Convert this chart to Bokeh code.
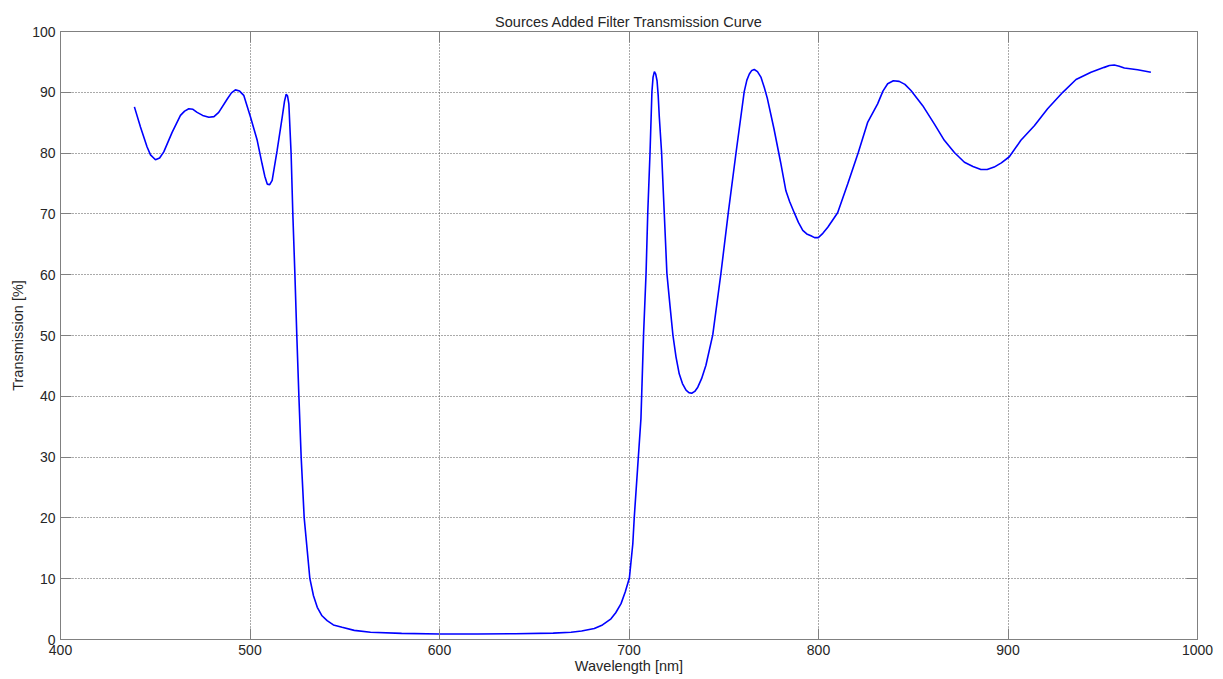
from bokeh.plotting import figure
from bokeh.models import LinearAxis, Range1d, FixedTicker
from bokeh.embed import file_html
from bokeh.resources import INLINE

# Measured filter transmission (wavelength in nm, transmission in %)
wavelength_nm = [
    439.0, 442.2, 445.7, 447.5, 450.1, 452.3, 454.5, 458.9, 463.3, 465.5,
    467.7, 469.9, 472.1, 475.0, 478.3, 481.0, 483.5, 488.0, 490.2, 492.3,
    494.5, 496.7, 500.3, 503.8, 506.4, 507.8, 509.1, 510.4, 511.7, 514.3,
    517.0, 518.2, 519.1, 519.8, 520.5, 521.7, 522.6, 523.7, 524.7, 525.8,
    527.0, 528.6, 531.6, 533.5, 535.5, 538.0, 540.7, 544.0, 548.6, 555.0,
    563.6, 580.0, 600.0, 620.0, 640.0, 660.0, 669.4, 675.0, 681.7, 686.0,
    690.5, 693.0, 695.8, 698.0, 700.2, 702.0, 702.8, 704.5, 706.3, 707.7,
    709.0, 709.9, 711.1, 712.1, 712.7, 713.4, 714.1, 714.8, 715.4, 716.0,
    717.2, 718.6, 720.0, 721.6, 723.2, 724.8, 726.5, 728.2, 730.1, 731.6,
    733.1, 734.7, 736.3, 738.3, 740.6, 744.2, 748.5, 752.4, 756.5, 760.8,
    762.2, 763.5, 764.8, 766.1, 767.8, 769.6, 771.4, 773.0, 776.5, 780.0,
    782.8, 784.8, 787.2, 789.4, 791.7, 793.8, 796.0, 797.9, 799.9, 802.3,
    804.9, 810.1, 815.4, 821.0, 826.0, 831.2, 834.0, 836.5, 839.5, 842.6,
    845.6, 848.8, 855.0, 861.1, 866.4, 871.7, 877.0, 881.5, 885.7, 889.0,
    892.7, 896.5, 900.7, 906.8, 913.9, 920.9, 928.9, 935.9, 943.8, 950.8,
    953.5, 956.1, 958.7, 961.4, 968.4, 975.4,
]
transmission_pct = [
    87.6, 84.3, 81.0, 79.7, 78.9, 79.2, 80.2, 83.4, 86.2, 86.9,
    87.3, 87.2, 86.7, 86.2, 85.9, 86.0, 86.7, 88.9, 89.9, 90.4,
    90.2, 89.5, 85.9, 82.1, 78.2, 76.2, 74.9, 74.8, 75.5, 80.4,
    85.9, 88.5, 89.7, 89.4, 88.1, 79.9, 70.0, 60.0, 50.0, 40.0,
    30.0, 20.0, 10.0, 7.2, 5.3, 3.9, 3.1, 2.4, 2.0, 1.5,
    1.2, 1.0, 0.9, 0.9, 0.95, 1.05, 1.2, 1.4, 1.8, 2.4,
    3.4, 4.4, 5.9, 7.8, 10.1, 15.7, 20.2, 28.0, 36.3, 50.3,
    60.2, 70.2, 80.1, 90.1, 92.5, 93.4, 93.0, 91.9, 89.5, 85.9,
    80.1, 70.2, 60.2, 55.0, 50.0, 46.5, 43.7, 42.1, 41.0, 40.6,
    40.5, 40.8, 41.5, 42.9, 45.1, 50.1, 60.2, 70.2, 80.1, 90.1,
    92.0, 93.0, 93.6, 93.75, 93.4, 92.5, 90.8, 89.0, 84.0, 78.5,
    73.8, 72.0, 70.2, 68.6, 67.3, 66.7, 66.4, 66.1, 66.1, 66.8,
    67.8, 70.2, 74.9, 80.1, 85.1, 88.1, 90.2, 91.4, 91.9, 91.8,
    91.3, 90.3, 87.8, 84.8, 82.1, 80.1, 78.5, 77.8, 77.3, 77.3,
    77.7, 78.4, 79.4, 82.1, 84.5, 87.3, 90.0, 92.1, 93.3, 94.1,
    94.4, 94.5, 94.3, 94.0, 93.7, 93.3,
]

x_ticks = [400, 500, 600, 700, 800, 900, 1000]
y_ticks = [0, 10, 20, 30, 40, 50, 60, 70, 80, 90, 100]

FONT = "Liberation Sans"
AXIS_GREY = "#808080"
TEXT = "#262626"

p = figure(
    width=1223, height=679,
    x_range=Range1d(400, 1000), y_range=Range1d(0, 100),
    output_backend="svg", toolbar_location=None,
    title="Sources Added Filter Transmission Curve",
    min_border_left=60, min_border_right=26,
    min_border_top=31, min_border_bottom=40,
)
p.background_fill_color = "white"
p.border_fill_color = "white"
p.outline_line_color = AXIS_GREY
p.outline_line_width = 1

p.title.align = "center"
p.title.text_font = FONT
p.title.text_font_size = "14.5px"
p.title.text_font_style = "normal"
p.title.text_color = TEXT
p.title.standoff = 4

p.line(wavelength_nm, transmission_pct, line_color="#0000ff", line_width=1.6)


def style_axis(ax, ticks, show_labels):
    ax.ticker = FixedTicker(ticks=ticks)
    ax.axis_line_color = AXIS_GREY
    ax.major_tick_line_color = AXIS_GREY
    ax.major_tick_in = 11
    ax.major_tick_out = 0
    ax.minor_tick_line_color = None
    ax.major_label_text_font = FONT
    ax.major_label_text_color = TEXT
    if show_labels:
        ax.major_label_text_font_size = "14px"
        ax.major_label_standoff = 5
    else:
        ax.major_label_text_font_size = "1px"
        ax.major_label_text_alpha = 0
        ax.major_label_standoff = 0


style_axis(p.xaxis[0], x_ticks, True)
style_axis(p.yaxis[0], y_ticks, True)
p.xaxis[0].axis_label = "Wavelength [nm]"
p.yaxis[0].axis_label = "Transmission [%]"
for ax in (p.xaxis[0], p.yaxis[0]):
    ax.axis_label_text_font = FONT
    ax.axis_label_text_font_size = "14.5px"
    ax.axis_label_text_font_style = "normal"
    ax.axis_label_text_color = TEXT
p.xaxis[0].axis_label_standoff = 0
p.yaxis[0].axis_label_standoff = 3

top_axis = LinearAxis()
style_axis(top_axis, x_ticks, False)
p.add_layout(top_axis, "above")
right_axis = LinearAxis()
style_axis(right_axis, y_ticks, False)
p.add_layout(right_axis, "right")

for g in (p.xgrid[0], p.ygrid[0]):
    g.grid_line_color = "#555555"
    g.grid_line_dash = "1 2"
    g.grid_line_width = 1
p.xgrid[0].ticker = FixedTicker(ticks=x_ticks)
p.ygrid[0].ticker = FixedTicker(ticks=y_ticks)

open("out.html", "w").write(file_html(p, INLINE))
